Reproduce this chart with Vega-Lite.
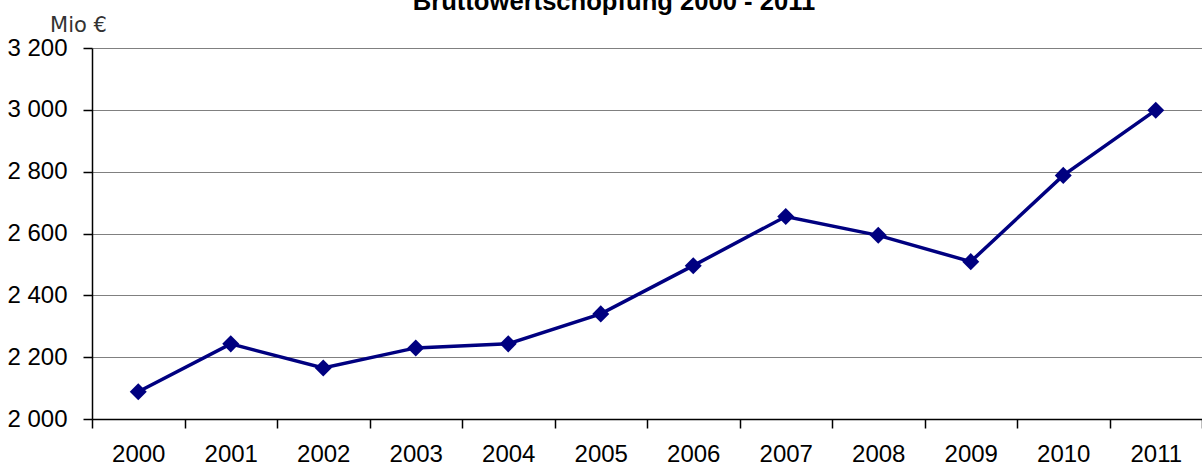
{
  "$schema": "https://vega.github.io/schema/vega-lite/v6.json",
  "width": 1110,
  "height": 371,
  "autosize": {"type": "none"},
  "padding": {"left": 92, "top": 48, "right": 0, "bottom": 47},
  "background": "white",
  "title": {
    "text": "Bruttowertschöpfung 2000 - 2011",
    "font": "Liberation Sans",
    "fontSize": 25.6,
    "fontWeight": "bold",
    "color": "black",
    "anchor": "middle",
    "frame": "group",
    "baseline": "alphabetic",
    "offset": 0,
    "dy": 22,
    "dx": -33
  },
  "data": {
    "values": [
      {"year": "2000", "value": 2088},
      {"year": "2001", "value": 2243},
      {"year": "2002", "value": 2165},
      {"year": "2003", "value": 2230},
      {"year": "2004", "value": 2243},
      {"year": "2005", "value": 2340},
      {"year": "2006", "value": 2496},
      {"year": "2007", "value": 2655},
      {"year": "2008", "value": 2594},
      {"year": "2009", "value": 2509},
      {"year": "2010", "value": 2788},
      {"year": "2011", "value": 2999}
    ]
  },
  "config": {
    "view": {"stroke": null},
    "axis": {"labelFont": "Liberation Sans", "labelFontSize": 24, "labelColor": "black", "domainColor": "black", "tickColor": "black"}
  },
  "encoding": {
    "x": {
      "field": "year",
      "type": "ordinal",
      "scale": {"paddingInner": 0, "paddingOuter": 0},
      "axis": {
        "title": null,
        "labelAngle": 0,
        "tickBand": "extent",
        "tickSize": 9,
        "labelPadding": 14,
        "domainWidth": 1.5,
        "tickWidth": 1.5,
        "grid": false
      }
    },
    "y": {
      "field": "value",
      "type": "quantitative",
      "scale": {"domain": [2000, 3200], "zero": false, "nice": false},
      "axis": {
        "values": [2000, 2200, 2400, 2600, 2800, 3000, 3200],
        "labelExpr": "replace(format(datum.value, ','), ',', ' ')",
        "tickSize": 9,
        "labelPadding": 16,
        "domainWidth": 1.5,
        "tickWidth": 1.5,
        "grid": true,
        "gridColor": "#808080",
        "gridWidth": 1,
        "title": "Mio €",
        "titleFont": "DejaVu Sans",
        "titleFontWeight": "normal",
        "titleFontSize": 21,
        "titleColor": "#333",
        "titleAngle": 0,
        "titleAlign": "center",
        "titleBaseline": "alphabetic",
        "titleX": -14,
        "titleY": -17
      }
    }
  },
  "layer": [
    {"mark": {"type": "line", "color": "#000080", "strokeWidth": 3.5}},
    {"mark": {"type": "point", "shape": "diamond", "filled": true, "size": 290, "color": "#000080", "opacity": 1}}
  ]
}
